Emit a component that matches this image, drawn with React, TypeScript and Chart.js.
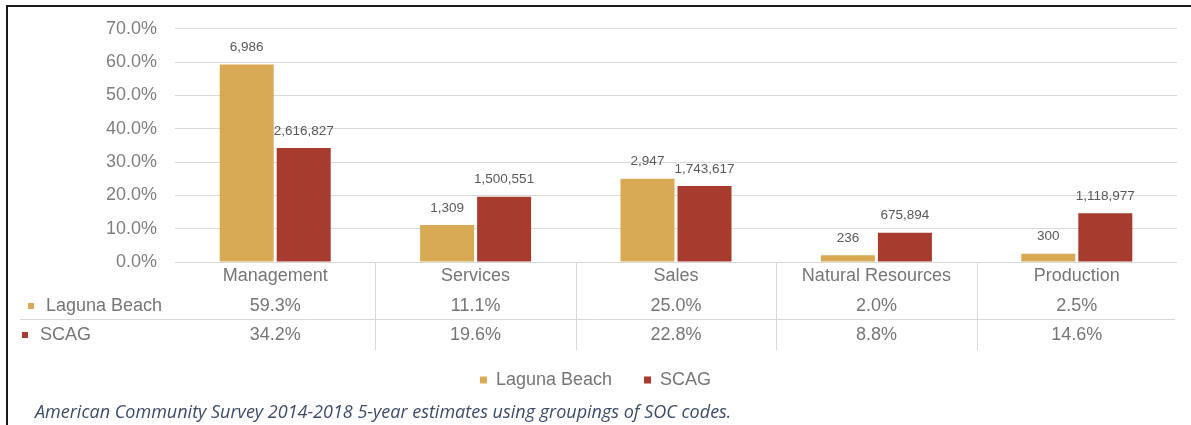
import { useEffect, useRef } from 'react';
import { Chart, registerables } from 'chart.js';

Chart.register(...registerables);

const categories = ['Management', 'Services', 'Sales', 'Natural Resources', 'Production'];
const seriesNames = ['Laguna Beach', 'SCAG'];
const lagunaPct = [59.3, 11.1, 25.0, 2.0, 2.5];
const scagPct = [34.2, 19.6, 22.8, 8.8, 14.6];
const lagunaCounts = [6986, 1309, 2947, 236, 300];
const scagCounts = [2616827, 1500551, 1743617, 675894, 1118977];
const yMin = 0;
const yMax = 70;
const yStep = 10;
const footnote = 'American Community Survey 2014-2018 5-year estimates using groupings of SOC codes.';

const FONT = '"Liberation Sans", Arial, sans-serif';
const GOLD = '#D8AA55';
const RED = '#A63B2E';
const GRID = '#D9D9D9';
const AXIS_TEXT = '#7F7F7F';
const TABLE_TEXT = '#767676';
const LABEL_TEXT = '#595959';

export default function App() {
  const ref = useRef<HTMLCanvasElement>(null);

  useEffect(() => {
    if (!ref.current) return;
    const counts = [lagunaCounts, scagCounts];
    const pcts = [lagunaPct, scagPct];
    const colors = [GOLD, RED];

    const tablePlugin = {
      id: 'tablePlugin',
      afterDraw(chart: any) {
        const { ctx, chartArea, scales } = chart;
        const xs = scales.x;
        const b = chartArea.bottom;
        ctx.save();
        // value labels above bars
        ctx.font = `13.5px ${FONT}`;
        ctx.fillStyle = LABEL_TEXT;
        ctx.textAlign = 'center';
        ctx.textBaseline = 'middle';
        chart.data.datasets.forEach((_ds: any, di: number) => {
          const meta = chart.getDatasetMeta(di);
          meta.data.forEach((el: any, i: number) => {
            ctx.fillText(counts[di][i].toLocaleString('en-US'), el.x, el.y - 17);
          });
        });
        // table dividers
        ctx.strokeStyle = GRID;
        ctx.lineWidth = 1;
        for (let i = 0; i < categories.length - 1; i++) {
          const xx = Math.round((xs.getPixelForValue(i) + xs.getPixelForValue(i + 1)) / 2) + 0.5;
          ctx.beginPath();
          ctx.moveTo(xx, b);
          ctx.lineTo(xx, b + 88);
          ctx.stroke();
        }
        ctx.beginPath();
        ctx.moveTo(20, b + 57.5);
        ctx.lineTo(chartArea.right - 2, b + 57.5);
        ctx.stroke();
        // table rows
        ctx.font = `18px ${FONT}`;
        const rowY = [b + 44, b + 73];
        const headX = [46, 40];
        seriesNames.forEach((name, r) => {
          ctx.fillStyle = colors[r];
          ctx.fillRect(headX[r] - 18, rowY[r] - 3, 6, 6);
          ctx.fillStyle = TABLE_TEXT;
          ctx.textAlign = 'left';
          ctx.fillText(name, headX[r], rowY[r]);
          ctx.textAlign = 'center';
          pcts[r].forEach((v, i) => {
            ctx.fillText(v.toFixed(1) + '%', xs.getPixelForValue(i), rowY[r]);
          });
        });
        ctx.restore();
      },
    };

    const chart = new Chart(ref.current, {
      type: 'bar',
      data: {
        labels: categories,
        datasets: [
          { label: seriesNames[0], data: lagunaPct, backgroundColor: GOLD, categoryPercentage: 0.569, barPercentage: 0.947 },
          { label: seriesNames[1], data: scagPct, backgroundColor: RED, categoryPercentage: 0.569, barPercentage: 0.947 },
        ],
      },
      options: {
        responsive: false,
        maintainAspectRatio: false,
        animation: false,
        layout: { padding: { top: 25, left: 14, right: 14, bottom: 26 } },
        scales: {
          y: {
            min: yMin,
            max: yMax,
            ticks: {
              stepSize: yStep,
              padding: 18,
              color: AXIS_TEXT,
              font: { family: FONT, size: 18 },
              callback: (v: any) => Number(v).toFixed(1) + '%',
            },
            grid: { color: GRID, lineWidth: 1, drawTicks: false },
            border: { display: false },
            afterFit: (s: any) => { s.width = 161; },
          },
          x: {
            ticks: { color: TABLE_TEXT, font: { family: FONT, size: 18 }, padding: 3, maxRotation: 0 },
            grid: { display: false, drawTicks: false },
            border: { display: false },
            afterFit: (s: any) => { s.height = 77; },
          },
        },
        plugins: {
          legend: {
            position: 'bottom',
            labels: {
              boxWidth: 7,
              boxHeight: 7,
              padding: 32,
              color: TABLE_TEXT,
              font: { family: FONT, size: 18 },
            },
          },
          tooltip: { enabled: false },
        },
      },
      plugins: [tablePlugin],
    });
    return () => chart.destroy();
  }, []);

  return (
    <div style={{ position: 'absolute', left: 0, top: 0, width: 1191, height: 425, background: '#fff', overflow: 'hidden' }}>
      <canvas ref={ref} width={1191} height={425} style={{ position: 'absolute', left: 0, top: 0, width: 1191, height: 425 }} />
      <div style={{ position: 'absolute', left: 6, top: 5, width: 1185, height: 2, background: '#1a1a1a' }} />
      <div style={{ position: 'absolute', left: 6, top: 5, width: 2, height: 420, background: '#1a1a1a' }} />
      <div style={{ position: 'absolute', left: 35, top: 399, fontFamily: '"Open Sans", sans-serif', fontStyle: 'italic', fontSize: 18, lineHeight: '24px', color: '#3E4C69', whiteSpace: 'nowrap' }}>
        {footnote}
      </div>
    </div>
  );
}
